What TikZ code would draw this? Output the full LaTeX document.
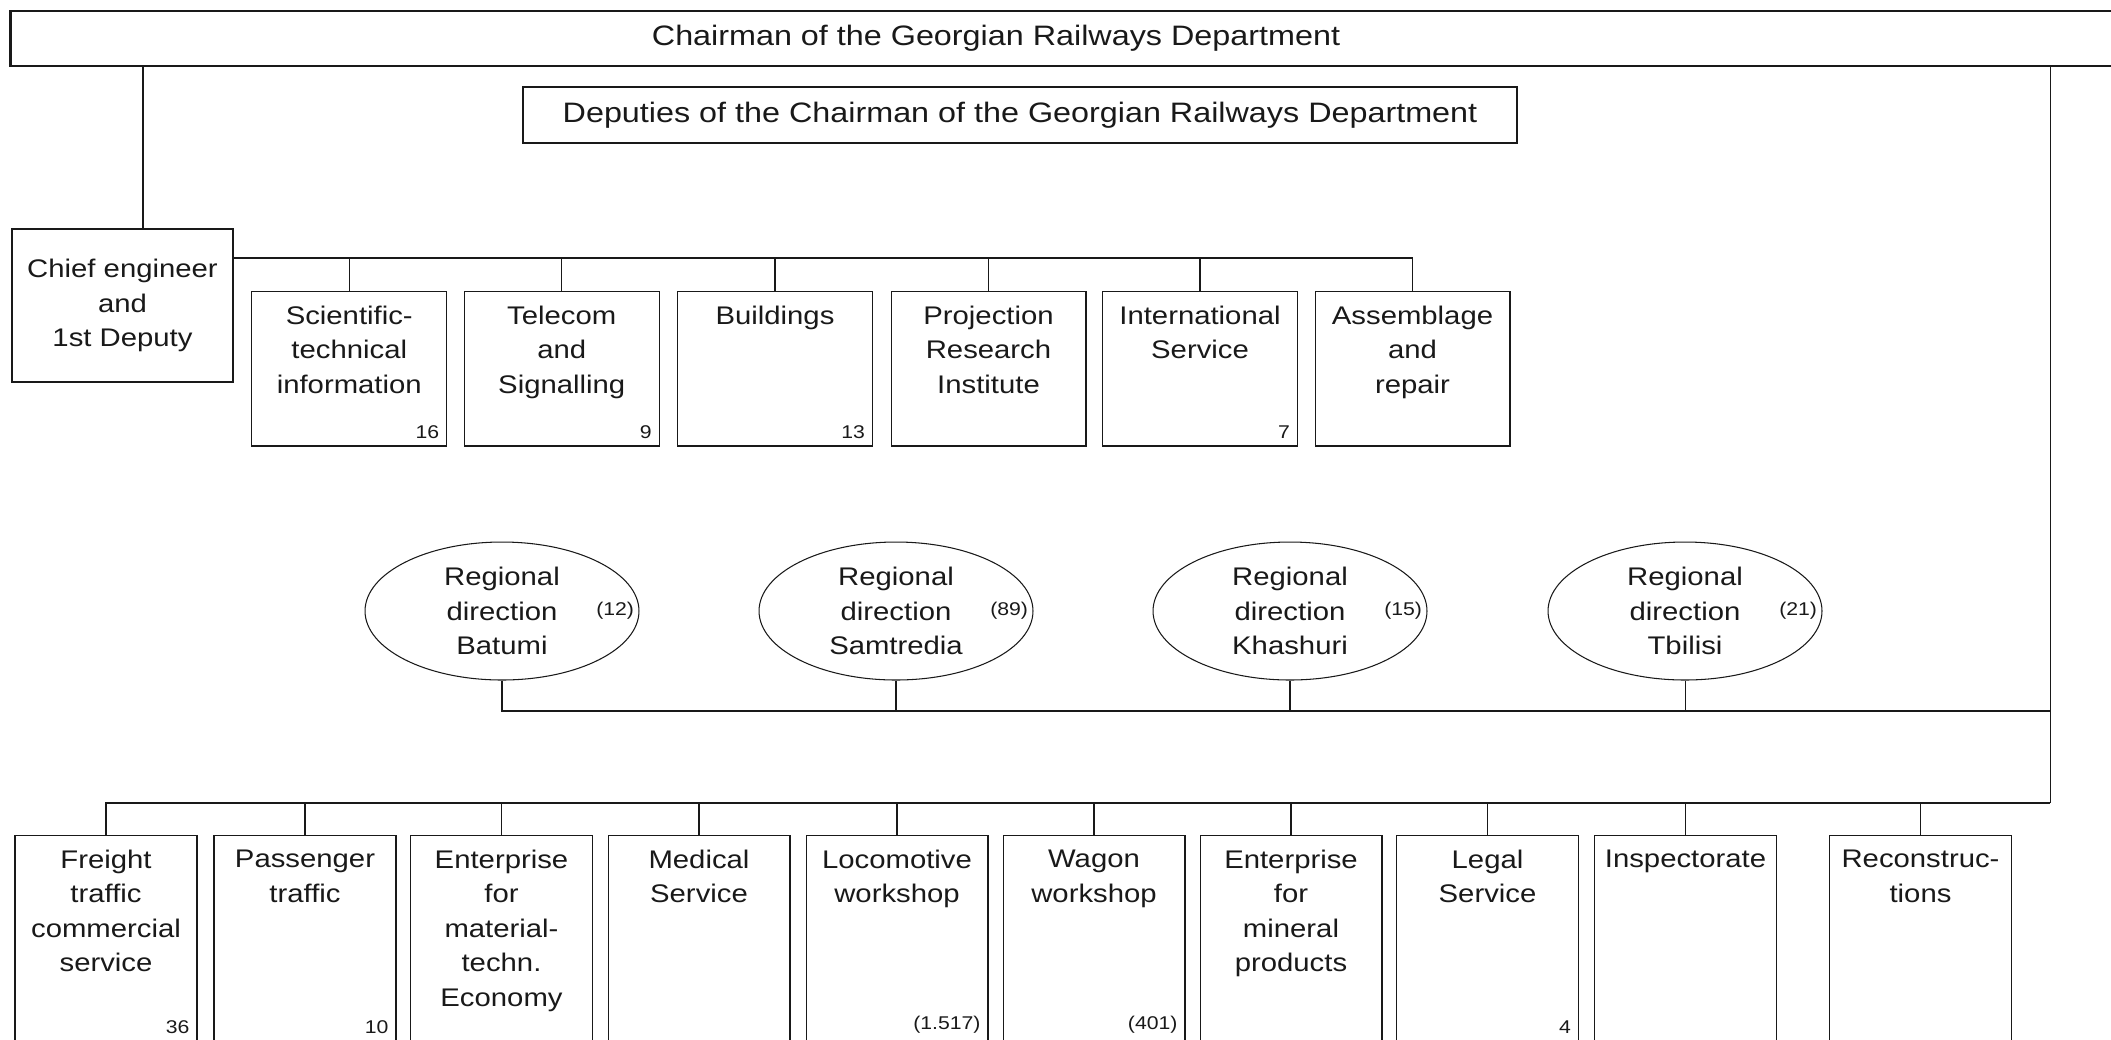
\documentclass[tikz,border=0pt]{standalone}
\usepackage{fontspec}
\setmainfont[FakeStretch=1.15]{Liberation Sans}
\usetikzlibrary{shapes.geometric}
\newcommand{\boxfont}{\fontsize{14.5}{19.6}\selectfont}
\newcommand{\cntfont}{\fontsize{10.5}{12}\selectfont}
\newcommand{\headfont}{\fontsize{16}{19}\selectfont}

\begin{document}
\begin{tikzpicture}[x=0.02cm,y=-0.02cm,line width=0.6pt,black!90]
  \tikzstyle{unit}=[rectangle,draw,inner sep=0pt,minimum width=3.9cm,minimum height=3.1cm]
  \tikzstyle{shop}=[unit,minimum width=3.64cm,minimum height=4.12cm]
  \tikzstyle{region}=[ellipse,draw,inner sep=0pt,minimum width=5.48cm,minimum height=2.76cm,
    align=center,font=\boxfont]
  \tikzstyle{txt}=[anchor=north,align=center,inner sep=0pt,yshift=-0.3cm,font=\boxfont]
  \tikzstyle{num}=[anchor=south east,inner sep=0.15cm,font=\cntfont]
  \tikzstyle{rnum}=[anchor=east,inner sep=0.1cm,font=\cntfont]

  \path[use as bounding box,clip] (0,0) rectangle (2111,1039);

  % head
  \node[rectangle,draw,line width=1.6pt,minimum width=42.3cm,minimum height=1.1cm,
        label={[font=\headfont,xshift=-1.43cm]center:Chairman of the Georgian Railways Department}]
        (chair) at (1067.5,38.5) {};
  \node[rectangle,draw,line width=1.1pt,minimum width=19.88cm,minimum height=1.12cm,
        font=\headfont] (dep) at (1020,115)
        {Deputies of the Chairman of the Georgian Railways Department};
  \node[rectangle,draw,minimum width=4.42cm,minimum height=3.06cm,align=center,
        font=\boxfont] (chief) at (122.5,305.5) {Chief engineer\\and\\1st Deputy};

  % services under the chief engineer
  \node[unit,label={[txt]north:Scientific-\\technical\\information},label={[num]south east:16}] (sci)  at (349.25,368.5) {};
  \node[unit,label={[txt]north:Telecom\\and\\Signalling},label={[num]south east:9}]              (tel)  at (561.75,368.5) {};
  \node[unit,label={[txt]north:Buildings},label={[num]south east:13}]                            (bld)  at (775,368.5) {};
  \node[unit,label={[txt]north:Projection\\Research\\Institute}]                                 (proj) at (988.5,368.5) {};
  \node[unit,label={[txt]north:International\\Service},label={[num]south east:7}]                (intl) at (1200,368.5) {};
  \node[unit,label={[txt]north:Assemblage\\and\\repair}]                                         (asm)  at (1412.5,368.5) {};

  % regional directions
  \node[region,label={[rnum]east:(12)}] (bat) at (502,611)  {Regional\\direction\\Batumi};
  \node[region,label={[rnum]east:(89)}] (sam) at (896,611)  {Regional\\direction\\Samtredia};
  \node[region,label={[rnum]east:(15)}] (kha) at (1290,611) {Regional\\direction\\Khashuri};
  \node[region,label={[rnum]east:(21)}] (tbi) at (1685,611) {Regional\\direction\\Tbilisi};

  % services under the chairman
  \node[shop,label={[txt]north:Freight\\traffic\\commercial\\service},label={[num]south east:36}] (frt) at (106,938) {};
  \node[shop,label={[txt]north:Passenger\\traffic},label={[num]south east:10}]                    (pas) at (305,938) {};
  \node[shop,label={[txt]north:Enterprise\\for\\material-\\techn.\\Economy}]                      (mat) at (501.5,938) {};
  \node[shop,label={[txt]north:Medical\\Service}]                                                 (med) at (699,938) {};
  \node[shop,label={[txt]north:Locomotive\\workshop},label={[num]south east:(1.517)}]             (loc) at (897,938) {};
  \node[shop,label={[txt]north:Wagon\\workshop},label={[num]south east:(401)}]                    (wag) at (1094,938) {};
  \node[shop,label={[txt]north:Enterprise\\for\\mineral\\products}]                               (mnr) at (1291,938) {};
  \node[shop,label={[txt]north:Legal\\Service},label={[num]south east:4}]                         (leg) at (1487.5,938) {};
  \node[shop,label={[txt]north:Inspectorate}]                                                     (insp) at (1685.5,938) {};
  \node[shop,label={[txt]north:Reconstruc-\\tions}]                                               (rec) at (1920.5,938) {};

  % lines
  \coordinate (cl) at (143,66);
  \coordinate (tb) at (0,258);
  \coordinate (rt) at (2050,66);
  \coordinate (rg) at (2050,711);
  \coordinate (rb) at (2050,803);

  \draw (cl) -- (cl |- chief.north);
  \draw (chief.east |- tb) -| (asm.north);
  \foreach \n in {sci,tel,bld,proj,intl}
    \draw (\n.north) -- (\n.north |- tb);

  \draw (rt) -- (rb);
  \draw (bat.south) |- (rg);
  \foreach \n in {sam,kha,tbi}
    \draw (\n.south) -- (\n.south |- rg);

  \draw (rb) -| (frt.north);
  \foreach \n in {pas,mat,med,loc,wag,mnr,leg,insp,rec}
    \draw (\n.north) -- (\n.north |- rb);
\end{tikzpicture}
\end{document}
